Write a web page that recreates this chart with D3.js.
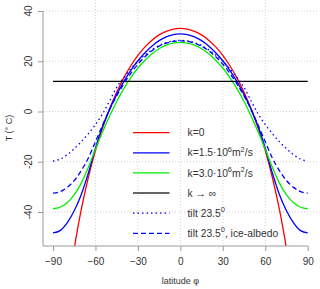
<!DOCTYPE html>
<html><head><meta charset="utf-8">
<script src="https://cdn.jsdelivr.net/npm/d3@7"></script>
<style>html,body{margin:0;padding:0;background:#fff;}svg{display:block;font-family:"Liberation Sans",Arial,sans-serif;}</style>
</head><body>
<svg id="c" width="320" height="289"></svg>
<script>
const lats = [-90,-85,-80,-75,-70,-65,-60,-55,-50,-45,-40,-35,-30,-25,-20,-15,-10,-5,0,5,10,15,20,25,30,35,40,45,50,55,60,65,70,75,80,85,90];
const tK0 = [null,-106.7,-75.5,-54.7,-39.0,-26.2,-15.6,-6.6,1.1,7.7,13.4,18.2,22.3,25.7,28.4,30.5,31.9,32.8,33.1,32.8,31.9,30.5,28.4,25.7,22.3,18.2,13.4,7.7,1.1,-6.6,-15.6,-26.2,-39.0,-54.7,-75.5,-106.7,null];
const tK15 = [-48.3,-47.4,-44.3,-39.5,-33.0,-24.5,-14.5,-6.0,0.8,6.8,11.9,16.4,20.2,23.4,26.1,28.2,29.7,30.6,30.9,30.6,29.7,28.2,26.1,23.4,20.2,16.4,11.9,6.8,0.8,-6.0,-14.5,-24.5,-33.0,-39.5,-44.3,-47.4,-48.3];
const tK30 = [-38.7,-38.1,-36.3,-33.2,-28.5,-22.2,-15.0,-8.2,-1.8,4.0,9.1,13.5,17.3,20.4,23.0,25.0,26.4,27.2,27.5,27.2,26.4,25.0,23.0,20.4,17.3,13.5,9.1,4.0,-1.8,-8.2,-15.0,-22.2,-28.5,-33.2,-36.3,-38.1,-38.7];
const tInf = [12,12,12,12,12,12,12,12,12,12,12,12,12,12,12,12,12,12,12,12,12,12,12,12,12,12,12,12,12,12,12,12,12,12,12,12,12];
const tTilt = [-19.7,-19.0,-17.2,-14.8,-12.0,-8.8,-5.2,-1.0,4.2,9.6,13.5,17.0,20.0,22.5,24.6,26.3,27.4,28.1,28.3,28.1,27.4,26.3,24.6,22.5,20.0,17.0,13.5,9.6,4.2,-1.0,-5.2,-8.8,-12.0,-14.8,-17.2,-19.0,-19.7];
const tIce = [-32.5,-31.9,-30.2,-27.5,-23.5,-18.5,-12.0,-5.5,0.8,6.2,11.0,15.2,18.8,21.8,24.2,26.0,27.2,27.9,28.1,27.9,27.2,26.0,24.2,21.8,18.8,15.2,11.0,6.2,0.8,-5.5,-12.0,-18.5,-23.5,-27.5,-30.2,-31.9,-32.5];
const xTicks = [-90,-60,-30,0,30,60,90];
const yTicks = [-40,-20,0,20,40];
const xGrid = [-60,-30,0,30,60];

(function(){
const svg = d3.select("#c");
const x = d3.scaleLinear().domain([-90,90]).range([53,307.7]);
const y = d3.scaleLinear().domain([40,-40]).range([11,212]);
const pL = 43, pR = 318, pT = 0, pB = 246;

svg.append("g").selectAll("line").data(yTicks).join("line")
  .attr("x1",pL).attr("x2",pR).attr("y1",d=>y(d)).attr("y2",d=>y(d))
  .attr("stroke","#d0d0d0").attr("stroke-dasharray","1 2");
svg.append("g").selectAll("line").data(xGrid).join("line")
  .attr("y1",pT).attr("y2",pB).attr("x1",d=>x(d)).attr("x2",d=>x(d))
  .attr("stroke","#d0d0d0").attr("stroke-dasharray","1 2");

svg.append("defs").append("clipPath").attr("id","clip").append("rect")
  .attr("x",pL).attr("y",pT).attr("width",pR-pL).attr("height",pB-pT);

const series = [
  {v:tK0, color:"#ff0000", dash:null},
  {v:tK15, color:"#0000ff", dash:null},
  {v:tK30, color:"#00ee00", dash:null},
  {v:tInf, color:"#000000", dash:null},
  {v:tTilt, color:"#0000ff", dash:"1.5 3"},
  {v:tIce, color:"#0000ff", dash:"5 3"}
];
const line = d3.line().defined(d=>d[1]!==null).x(d=>x(d[0])).y(d=>y(d[1])).curve(d3.curveMonotoneX);
const gl = svg.append("g").attr("clip-path","url(#clip)");
series.forEach(s=>{
  gl.append("path").attr("d", line(lats.map((l,i)=>[l,s.v[i]])))
    .attr("fill","none").attr("stroke",s.color).attr("stroke-width",1.3)
    .attr("stroke-dasharray",s.dash);
});

const axCol = "#999";
const xa = svg.append("g").attr("transform",`translate(0,${pB})`).call(d3.axisBottom(x).tickValues(xTicks).tickSize(5).tickSizeOuter(0));
xa.select(".domain").remove();
xa.selectAll("line").attr("stroke",axCol);
xa.selectAll("text").attr("font-size",10).attr("fill","#333").attr("font-family",null).attr("dy","1.05em");
svg.append("line").attr("x1",pL).attr("x2",x(90)).attr("y1",pB).attr("y2",pB).attr("stroke",axCol);
svg.append("line").attr("x1",pL).attr("x2",pL).attr("y1",y(40)).attr("y2",pB).attr("stroke",axCol);
const ya = svg.append("g").attr("transform",`translate(${pL},0)`).call(d3.axisLeft(y).tickValues(yTicks).tickSize(5).tickSizeOuter(0));
ya.select(".domain").remove();
ya.selectAll("line").attr("stroke",axCol);
ya.selectAll("text").remove();
svg.append("g").selectAll("text").data(yTicks).join("text")
  .attr("transform",d=>`translate(32,${y(d)}) rotate(-90)`)
  .attr("text-anchor","middle").attr("font-size",10).attr("fill","#333").text(d=>d);

svg.append("text").attr("x",180.35).attr("y",284).attr("text-anchor","middle")
  .attr("font-size",9).attr("fill","#333").text("latitude φ");
svg.append("text").attr("transform","translate(12,128) rotate(-90)").attr("text-anchor","middle")
  .attr("font-size",9).attr("fill","#333").text("T (° C)");

const legItems = [
  {c:"#ff0000", d:null, parts:[["k=0",0]]},
  {c:"#0000ff", d:null, parts:[["k=1.5·10",0],["6",1],["m",0],["2",1],["/s",0]]},
  {c:"#00ee00", d:null, parts:[["k=3.0·10",0],["6",1],["m",0],["2",1],["/s",0]]},
  {c:"#666666", d:null, parts:[["k → ∞",0]]},
  {c:"#0000ff", d:"1.5 3", parts:[["tilt 23.5",0],["0",1]]},
  {c:"#0000ff", d:"5 3", parts:[["tilt 23.5",0],["0",1],[", ice-albedo",0]]}
];
const lg = svg.append("g");
legItems.forEach((it,i)=>{
  const yy = 132.7 + i*20.12;
  lg.append("line").attr("x1",133).attr("x2",169.5).attr("y1",yy).attr("y2",yy)
    .attr("stroke",it.c).attr("stroke-width",it.c==="#666666"?2:1.3).attr("stroke-dasharray",it.d);
  const t = lg.append("text").attr("x",187.5).attr("y",yy+3.6).attr("font-size",10.3).attr("fill","#333");
  let up = false;
  it.parts.forEach(p=>{
    let dy = 0;
    if(p[1] && !up){dy=-4.5; up=true;}
    else if(!p[1] && up){dy=4.5; up=false;}
    t.append("tspan").attr("font-size",p[1]?7.5:10.3).attr("dy",dy).text(p[0]);
  });
});
})();
</script>
</body></html>
